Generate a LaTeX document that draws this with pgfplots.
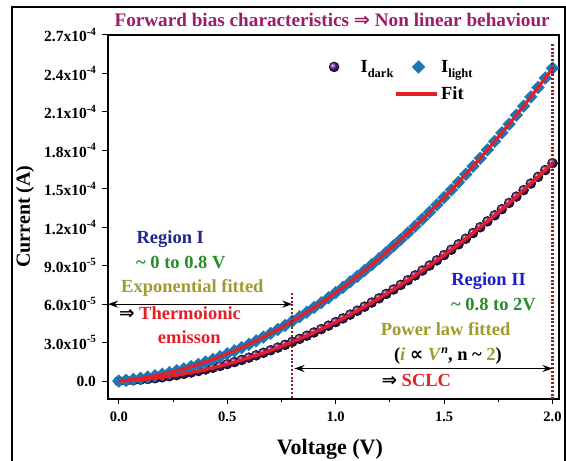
\documentclass[border=0pt]{standalone}
\usepackage{pgfplots}
\pgfplotsset{compat=1.18}
\usepackage{pgfplotstable}
\usepackage{fontspec}
\setmainfont{Liberation Serif}
\newfontfamily\symfont{DejaVu Sans}
\usetikzlibrary{arrows.meta}
\definecolor{ballpurple}{RGB}{95,25,125}
\definecolor{diablue}{RGB}{28,120,181}
\definecolor{fitred}{RGB}{227,32,40}
\definecolor{titlecol}{RGB}{155,30,105}
\definecolor{regI}{RGB}{30,40,140}
\definecolor{regII}{RGB}{30,30,200}
\definecolor{grn}{RGB}{40,140,40}
\definecolor{olive}{RGB}{160,155,45}
\definecolor{dotcol}{RGB}{140,30,30}
\newcommand\tsup[1]{\raisebox{0.42em}{\fontsize{11}{11}\selectfont #1}}
\newcommand\lsub[1]{\raisebox{-0.28em}{\fontsize{12.5}{12.5}\selectfont #1}}
\pgfplotsset{
  darkleg/.style={legend image code/.code={\path[draw=none] (0pt,0pt) -- (34pt,0pt);\draw[##1] plot coordinates {(8.5pt,0pt)};}},
  lightleg/.style={legend image code/.code={\path[draw=none] (0pt,0pt) -- (44pt,0pt);\draw[##1] plot coordinates {(22.5pt,0pt)};}},
  fitleg/.style={legend image code/.code={\path[draw=none] (0pt,0pt) -- (44pt,0pt);\draw[##1] (0pt,0pt) -- (40.5pt,0pt);}},
}

\pgfplotstableread{
V dark light
0.0000 0.0000 0.0000
0.0333 0.0277 0.0592
0.0667 0.0640 0.1302
0.1000 0.1090 0.2130
0.1333 0.1627 0.3076
0.1667 0.2250 0.4139
0.2000 0.2960 0.5320
0.2333 0.3757 0.6619
0.2667 0.4640 0.8036
0.3000 0.5610 0.9570
0.3333 0.6667 1.1222
0.3667 0.7810 1.2992
0.4000 0.9040 1.4880
0.4333 1.0357 1.6886
0.4667 1.1760 1.9009
0.5000 1.3250 2.1250
0.5333 1.4827 2.3609
0.5667 1.6490 2.6086
0.6000 1.8240 2.8680
0.6333 2.0077 3.1392
0.6667 2.2000 3.4222
0.7000 2.4010 3.7170
0.7333 2.6107 4.0236
0.7667 2.8290 4.3419
0.8000 3.0560 4.6720
0.8333 3.2917 5.0139
0.8667 3.5360 5.3676
0.9000 3.7890 5.7330
0.9333 4.0507 6.1102
0.9667 4.3210 6.4992
1.0000 4.6000 6.9000
1.0333 4.8877 7.3126
1.0667 5.1840 7.7369
1.1000 5.4890 8.1730
1.1333 5.8027 8.6209
1.1667 6.1250 9.0806
1.2000 6.4560 9.5520
1.2333 6.7957 10.0352
1.2667 7.1440 10.5302
1.3000 7.5010 11.0370
1.3333 7.8667 11.5556
1.3667 8.2410 12.0859
1.4000 8.6240 12.6280
1.4333 9.0157 13.1819
1.4667 9.4160 13.7476
1.5000 9.8250 14.3250
1.5333 10.2427 14.9142
1.5667 10.6690 15.5152
1.6000 11.1040 16.1280
1.6333 11.5477 16.7526
1.6667 12.0000 17.3889
1.7000 12.4610 18.0370
1.7333 12.9307 18.6969
1.7667 13.4090 19.3686
1.8000 13.8960 20.0520
1.8333 14.3917 20.7472
1.8667 14.8960 21.4542
1.9000 15.4090 22.1730
1.9333 15.9307 22.9036
1.9667 16.4610 23.6459
2.0000 17.0000 24.4000
}\datatab

\begin{document}
\begin{tikzpicture}
\useasboundingbox (0,0) rectangle (566pt,461pt);
\draw[line width=2pt] (12pt,-10pt) -- (12pt,454pt) -- (564.5pt,454pt) -- (564.5pt,-10pt);
\begin{axis}[
  at={(108pt,62pt)}, anchor=south west,
  scale only axis, width=451pt, height=364pt,
  xmin=-0.05, xmax=2.03, ymin=-1.4, ymax=27,
  axis line style={line width=1.2pt},
  xtick={0,0.5,1,1.5,2}, xticklabels={0.0,0.5,1.0,1.5,2.0},
  minor xtick={0.25,0.75,1.25,1.75},
  ytick={0,3,6,9,12,15,18,21,24,27},
  yticklabels={0.0,{3.0x10\tsup{-5}},{6.0x10\tsup{-5}},{9.0x10\tsup{-5}},{1.2x10\tsup{-4}},{1.5x10\tsup{-4}},{1.8x10\tsup{-4}},{2.1x10\tsup{-4}},{2.4x10\tsup{-4}},{2.7x10\tsup{-4}}},
  scaled y ticks=false,
  tick align=outside, xtick pos=bottom, ytick pos=left,
  major tick length=5.5pt, minor tick length=3.5pt,
  every tick/.style={black, line width=1pt},
  tick label style={font=\bfseries\fontsize{15.5}{15.5}\selectfont},
  yticklabel style={xshift=-3pt},
  xticklabel style={font=\bfseries\fontsize{14.5}{14.5}\selectfont, yshift=-4pt},
  xlabel={Voltage (V)}, ylabel={Current (A)},
  xlabel style={at={(axis description cs:0.492,-0.138)}, anchor=center, font=\bfseries\fontsize{22}{22}\selectfont},
  ylabel style={at={(axis description cs:-0.184,0.501)}, anchor=center, font=\bfseries\fontsize{20}{20}\selectfont},
  title={Forward bias characteristics {\symfont ⇒} Non linear behaviour},
  title style={at={(axis description cs:0.497,1.024)}, anchor=center, yshift=0pt, text=titlecol, font=\bfseries\fontsize{19.2}{19.2}\selectfont},
  legend style={draw=none, fill=none, inner sep=0pt, at={(axis description cs:0.482,0.937)}, anchor=north west,
    font=\bfseries\fontsize{18.5}{18.5}\selectfont, nodes={inner xsep=1pt}, /tikz/column sep=0pt, /tikz/row sep=9pt},
  legend columns=2,
  legend cell align=left,
  clip=false,
  clip marker paths=true,
]
\addplot[only marks, mark=ball, mark size=5pt, ball color=ballpurple, mark options={ball color=ballpurple}, darkleg] table[x=V,y=dark]{\datatab};
\addlegendentry{I\lsub{dark}}
\addplot[only marks, mark=square*, mark size=4.5pt, color=diablue, mark options={rotate=45}, lightleg] table[x=V,y=light]{\datatab};
\addlegendentry{I\lsub{light}}
\addlegendimage{empty legend}\addlegendentry{}
\addplot[fitred, line width=3.2pt, fitleg] table[x=V,y=dark]{\datatab};
\addlegendentry{Fit}
\addplot[fitred, line width=3.2pt, forget plot] table[x=V,y=light]{\datatab};
\addplot[dotcol, line width=2.2pt, dash pattern=on 2pt off 1.8pt, forget plot] coordinates {(0.8,6.87) (0.8,-1.4)};
\addplot[dotcol, line width=2.2pt, dash pattern=on 2pt off 1.8pt, forget plot] coordinates {(2.0,26.3) (2.0,-1.4)};
\draw[<->, line width=1.2pt, >={Stealth[length=10pt,width=7pt]}] (axis cs:-0.05,6) -- (axis cs:0.8,6);
\draw[<->, line width=1.2pt, >={Stealth[length=10pt,width=7pt]}] (axis cs:0.81,0.98) -- (axis cs:2.0,0.98);
\begin{scope}[every node/.style={font=\bfseries\fontsize{18.5}{18.5}\selectfont}]
\node[text=regI] at (axis cs:0.237,11.08) {Region I};
\node[text=grn] at (axis cs:0.286,9.25) {\textasciitilde{} 0 to 0.8 V};
\node[text=olive] at (axis cs:0.339,7.3) {Exponential fitted};
\node[anchor=west, inner sep=0pt] at (axis cs:0.0,5.3) {{\symfont ⇒} \textcolor{fitred}{Thermoionic}};
\node[text=fitred] at (axis cs:0.325,3.43) {emisson};
\node[text=regII] at (axis cs:1.705,7.81) {Region II};
\node[text=grn] at (axis cs:1.728,6.0) {\textasciitilde{} 0.8 to 2V};
\node[text=olive] at (axis cs:1.507,4.06) {Power law fitted};
\node at (axis cs:1.518,1.95) {(\textcolor{olive}{\textit{i}} {\symfont ∝} \textcolor{olive}{\textit{V}}\raisebox{0.4em}{\fontsize{12}{12}\selectfont\textit{n}}, n \textasciitilde{} \textcolor{olive}{2})};
\node at (axis cs:1.372,0.03) {{\symfont ⇒} \textcolor{fitred}{SCLC}};
\end{scope}
\end{axis}
\end{tikzpicture}
\end{document}
